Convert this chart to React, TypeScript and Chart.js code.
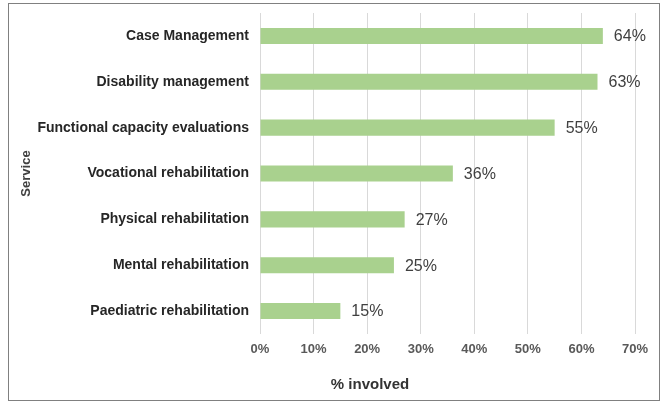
import React, { useEffect, useRef } from "react";
import { Chart, registerables } from "chart.js";

Chart.register(...registerables);

const categories = [
  "Case Management",
  "Disability management",
  "Functional capacity evaluations",
  "Vocational rehabilitation",
  "Physical rehabilitation",
  "Mental rehabilitation",
  "Paediatric rehabilitation",
];
const values = [64, 63, 55, 36, 27, 25, 15];
const xTicks = [0, 10, 20, 30, 40, 50, 60, 70];
const xTitle = "% involved";
const yTitle = "Service";

const FONT = "'Liberation Sans', Arial, sans-serif";

const labelPlugin = {
  id: "barLabels",
  afterDatasetsDraw(chart: any) {
    const ctx = chart.ctx;
    const meta = chart.getDatasetMeta(0);
    ctx.save();
    ctx.font = `16px ${FONT}`;
    ctx.fillStyle = "#404040";
    ctx.textAlign = "left";
    ctx.textBaseline = "middle";
    meta.data.forEach((bar: any, i: number) => {
      ctx.fillText(`${values[i]}%`, bar.x + 11, bar.y + 1);
    });
    // x axis title
    ctx.font = `bold 15px ${FONT}`;
    ctx.textAlign = "center";
    ctx.fillStyle = "#333333";
    ctx.fillText(xTitle, 370, 385);
    ctx.restore();
  },
};

export default function App() {
  const ref = useRef<HTMLCanvasElement>(null);
  useEffect(() => {
    if (!ref.current) return;
    const chart = new Chart(ref.current, {
      type: "bar",
      data: {
        labels: categories,
        datasets: [
          {
            data: values,
            backgroundColor: "#a9d18e",
            borderWidth: 0,
            barPercentage: 0.35,
            categoryPercentage: 1,
          },
        ],
      },
      options: {
        indexAxis: "y",
        animation: false,
        responsive: false,
        maintainAspectRatio: false,
        layout: { padding: { top: 13, right: 29, left: 0, bottom: 0 } },
        plugins: { legend: { display: false }, tooltip: { enabled: false } },
        scales: {
          x: {
            min: 0,
            max: 70,
            afterFit: (s: any) => {
              s.height = 68;
              s.paddingLeft = 0;
              s.paddingRight = 0;
            },
            afterBuildTicks: (s: any) => {
              s.ticks = xTicks.map((v) => ({ value: v }));
            },
            ticks: {
              callback: (v: any) => `${v}%`,
              color: "#595959",
              font: { family: FONT, size: 13, weight: "bold" },
              padding: 8,
            },
            grid: { color: "#d9d9d9", drawTicks: false, lineWidth: 1 },
            border: { display: false },
            title: { display: false },
          },
          y: {
            afterFit: (s: any) => {
              s.width = 260;
              s.paddingTop = 0;
              s.paddingBottom = 0;
            },
            ticks: {
              color: "#262626",
              font: { family: FONT, size: 14, weight: "bold" },
              padding: 11,
            },
            grid: { display: false, drawTicks: false },
            border: { display: false },
            title: {
              display: true,
              text: yTitle,
              color: "#404040",
              font: { family: FONT, size: 13, weight: "bold" },
              padding: { top: 19, bottom: 0 },
            },
          },
        },
      },
      plugins: [labelPlugin],
    });
    return () => chart.destroy();
  }, []);
  return (
    <div style={{ position: "absolute", left: 0, top: 0, width: 664, height: 402, background: "#fff" }}>
      <canvas ref={ref} width={664} height={402} style={{ position: "absolute", left: 0, top: 0 }} />
      <div
        style={{
          position: "absolute",
          left: 8,
          top: 3,
          width: 650,
          height: 396,
          border: "1px solid #808080",
          pointerEvents: "none",
        }}
      />
    </div>
  );
}
